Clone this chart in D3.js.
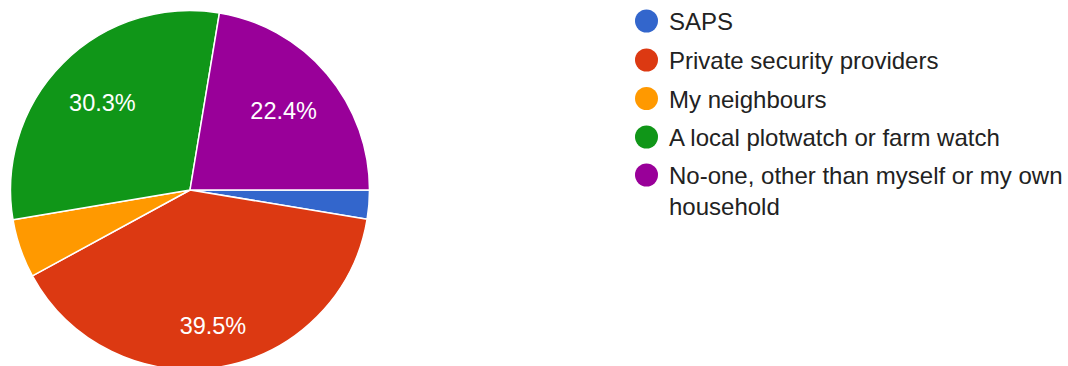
<!DOCTYPE html>
<html><head><meta charset="utf-8">
<script src="https://cdn.jsdelivr.net/npm/d3@7"></script>
<style>body{margin:0;background:#fff;overflow:hidden}svg{display:block}</style>
</head><body>
<script>
const categories = ["SAPS", "Private security providers", "My neighbours", "A local plotwatch or farm watch", "No-one, other than myself or my own household"];
const values = [2.6, 39.5, 5.3, 30.3, 22.4];
const colors = ["#3366cc", "#dc3912", "#ff9900", "#109618", "#990099"];
const legendLines = [["SAPS"], ["Private security providers"], ["My neighbours"], ["A local plotwatch or farm watch"], ["No-one, other than myself or my own", "household"]];

const W = 1068, H = 366;
const svg = d3.select("body").append("svg").attr("width", W).attr("height", H);
const cx = 190, cy = 190, R = 179.5;
const data = categories.map((c, i) => ({c, v: values[i], col: colors[i]}));
const pie = d3.pie().value(d => d.v).sort(null).startAngle(Math.PI / 2).endAngle(Math.PI / 2 + 2 * Math.PI);
const arcs = pie(data);
const arc = d3.arc().innerRadius(0).outerRadius(R);
const g = svg.append("g").attr("transform", `translate(${cx},${cy})`);
g.selectAll("path").data(arcs).join("path")
  .attr("d", arc).attr("fill", d => d.data.col)
  .attr("stroke", "#fff").attr("stroke-width", 1.5).attr("stroke-linejoin", "round");

const total = d3.sum(values);
const fs = 23.5;
arcs.forEach(a => {
  const pct = a.data.v / total;
  if (pct < 0.1) return;
  const t = g.append("text").text(d3.format(".1%")(pct))
    .attr("font-family", "Arial, 'Liberation Sans', sans-serif").attr("font-size", fs)
    .attr("fill", "#fff").attr("text-anchor", "middle");
  const bw = t.node().getComputedTextLength();
  const bh = fs * 0.72;
  const m = (a.startAngle + a.endAngle) / 2;
  const ux = Math.sin(m), uy = -Math.cos(m);
  let lo = 0, hi = R;
  for (let k = 0; k < 40; k++) {
    const d = (lo + hi) / 2;
    const x = ux * d, y = uy * d;
    const fx = Math.abs(x) + bw / 2, fy = Math.abs(y) + bh / 2;
    if (Math.hypot(fx, fy) > 0.86 * R) hi = d; else lo = d;
  }
  t.attr("x", ux * lo).attr("y", uy * lo + bh / 2);
});

const lg = svg.append("g");
const rowY = [21, 60, 98.5, 137, 175];
legendLines.forEach((lines, i) => {
  lg.append("circle").attr("cx", 646.5).attr("cy", rowY[i]).attr("r", 11.5).attr("fill", colors[i]);
  lines.forEach((s, j) => {
    lg.append("text").text(s).attr("x", 669).attr("y", rowY[i] + 9 + j * 31)
      .attr("font-family", "Arial, 'Liberation Sans', sans-serif").attr("font-size", 24)
      .attr("fill", "#222222");
  });
});
</script>
</body></html>
